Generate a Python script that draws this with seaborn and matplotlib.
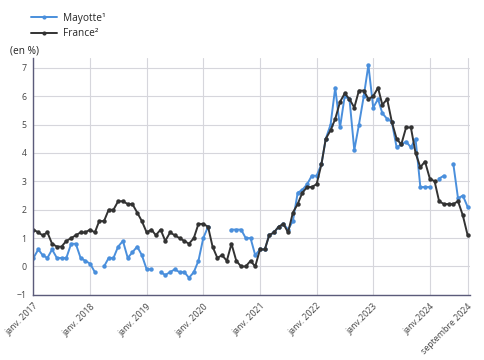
import numpy as np
import pandas as pd
import matplotlib
matplotlib.use("Agg")
import matplotlib.pyplot as plt
from matplotlib.lines import Line2D
import seaborn as sns

# monthly inflation, year on year (en %)
months = pd.date_range("2017-01-01", "2024-09-01", freq="MS")

france = [
    1.3, 1.2, 1.1, 1.2, 0.8, 0.7, 0.7, 0.9, 1.0, 1.1, 1.2, 1.2,
    1.3, 1.2, 1.6, 1.6, 2.0, 2.0, 2.3, 2.3, 2.2, 2.2, 1.9, 1.6,
    1.2, 1.3, 1.1, 1.3, 0.9, 1.2, 1.1, 1.0, 0.9, 0.8, 1.0, 1.5,
    1.5, 1.4, 0.7, 0.3, 0.4, 0.2, 0.8, 0.2, 0.0, 0.0, 0.2, 0.0,
    0.6, 0.6, 1.1, 1.2, 1.4, 1.5, 1.2, 1.9, 2.2, 2.6, 2.8, 2.8,
    2.9, 3.6, 4.5, 4.8, 5.2, 5.8, 6.1, 5.9, 5.6, 6.2, 6.2, 5.9,
    6.0, 6.3, 5.7, 5.9, 5.1, 4.5, 4.3, 4.9, 4.9, 4.0, 3.5, 3.7,
    3.1, 3.0, 2.3, 2.2, 2.2, 2.2, 2.3, 1.8, 1.1,
]

nan = np.nan
mayotte = [
    0.3, 0.6, 0.4, 0.3, 0.6, 0.3, 0.3, 0.3, 0.8, 0.8, 0.3, 0.2,
    0.1, -0.2, nan, 0.0, 0.3, 0.3, 0.7, 0.9, 0.3, 0.5, 0.7, 0.4,
    -0.1, -0.1, nan, -0.2, -0.3, -0.2, -0.1, -0.2, -0.2, -0.4, -0.2, 0.2,
    1.0, 1.4, nan, nan, nan, nan, 1.3, 1.3, 1.3, 1.0, 1.0, 0.4,
    0.6, 0.6, 1.1, 1.2, 1.4, 1.5, 1.3, 1.6, 2.6, 2.7, 2.9, 3.2,
    3.2, 3.6, 4.5, 5.0, 6.3, 4.9, 6.0, 5.9, 4.1, 5.0, 6.0, 7.1,
    5.6, 5.9, 5.4, 5.2, 5.1, 4.2, 4.3, 4.4, 4.2, 4.5, 2.8, 2.8,
    2.8, nan, 3.1, 3.2, nan, 3.6, 2.4, 2.5, 2.1,
]

series_names = ["Mayotte\u00b9", "France\u00b2"]
colors = ["#4a8fdc", "#333333"]

tick_dates = pd.to_datetime([
    "2017-01-01", "2018-01-01", "2019-01-01", "2020-01-01", "2021-01-01",
    "2022-01-01", "2023-01-01", "2024-01-01", "2024-09-01",
])
tick_labels = [
    "janv. 2017", "janv. 2018", "janv. 2019", "janv. 2020", "janv. 2021",
    "janv. 2022", "janv.2023", "janv.2024", "septembre 2024",
]

# long table, one segment id per unbroken run so gaps stay gaps
frames = []
for name, vals in zip(series_names, [mayotte, france]):
    s = pd.Series(vals, index=months)
    seg = s.isna().cumsum()
    d = pd.DataFrame({"mois": months, "valeur": s.values,
                      "serie": name, "segment": seg.values})
    frames.append(d.dropna())
df = pd.concat(frames, ignore_index=True)

sns.set_style("white")
plt.rcParams["font.family"] = ["Open Sans", "DejaVu Sans"]

fig = plt.figure(figsize=(4.85, 3.6), dpi=100)
ax = fig.add_axes([0.069, 0.181, 0.9, 0.658])

sns.lineplot(data=df, x="mois", y="valeur", hue="serie", units="segment",
             estimator=None, palette=dict(zip(series_names, colors)),
             hue_order=series_names, marker="o", markersize=3.2,
             markeredgewidth=0, linewidth=1.4, legend=False, ax=ax)

ax.set_xlim(months[0], pd.Timestamp("2024-09-16"))
ax.set_ylim(-1, 7.35)
ax.set_yticks(range(-1, 8))
ax.set_xticks(tick_dates)
ax.set_xticklabels(tick_labels, rotation=45, ha="right",
                   rotation_mode="anchor", fontsize=6.3, color="#444444")
ax.tick_params(axis="y", labelsize=6.3, labelcolor="#444444",
               length=3, color="#999999", pad=2)
ax.tick_params(axis="x", length=3, color="#cccccc", pad=2)
ax.set_xlabel("")
ax.set_ylabel("")

ax.grid(True, color="#d6d6dc", linewidth=0.8)
ax.set_axisbelow(True)
for side in ["top", "right"]:
    ax.spines[side].set_visible(False)
ax.spines["left"].set_color("#5b5b7a")
ax.spines["bottom"].set_color("#5b5b7a")
ax.spines["left"].set_linewidth(1.0)
ax.spines["bottom"].set_linewidth(1.0)

fig.text(0.02, 0.852, "(en %)", fontsize=7.3, color="#222222")

handles = [Line2D([], [], color=c, marker="o", markersize=3, markeredgewidth=0,
                  linewidth=1.4, label=n) for n, c in zip(series_names, colors)]
fig.legend(handles=handles, loc="upper left", bbox_to_anchor=(0.045, 0.99),
           frameon=False, fontsize=7.3, handlelength=2.6, labelspacing=0.45,
           handletextpad=0.6)

fig.savefig("out.png", dpi=100)
